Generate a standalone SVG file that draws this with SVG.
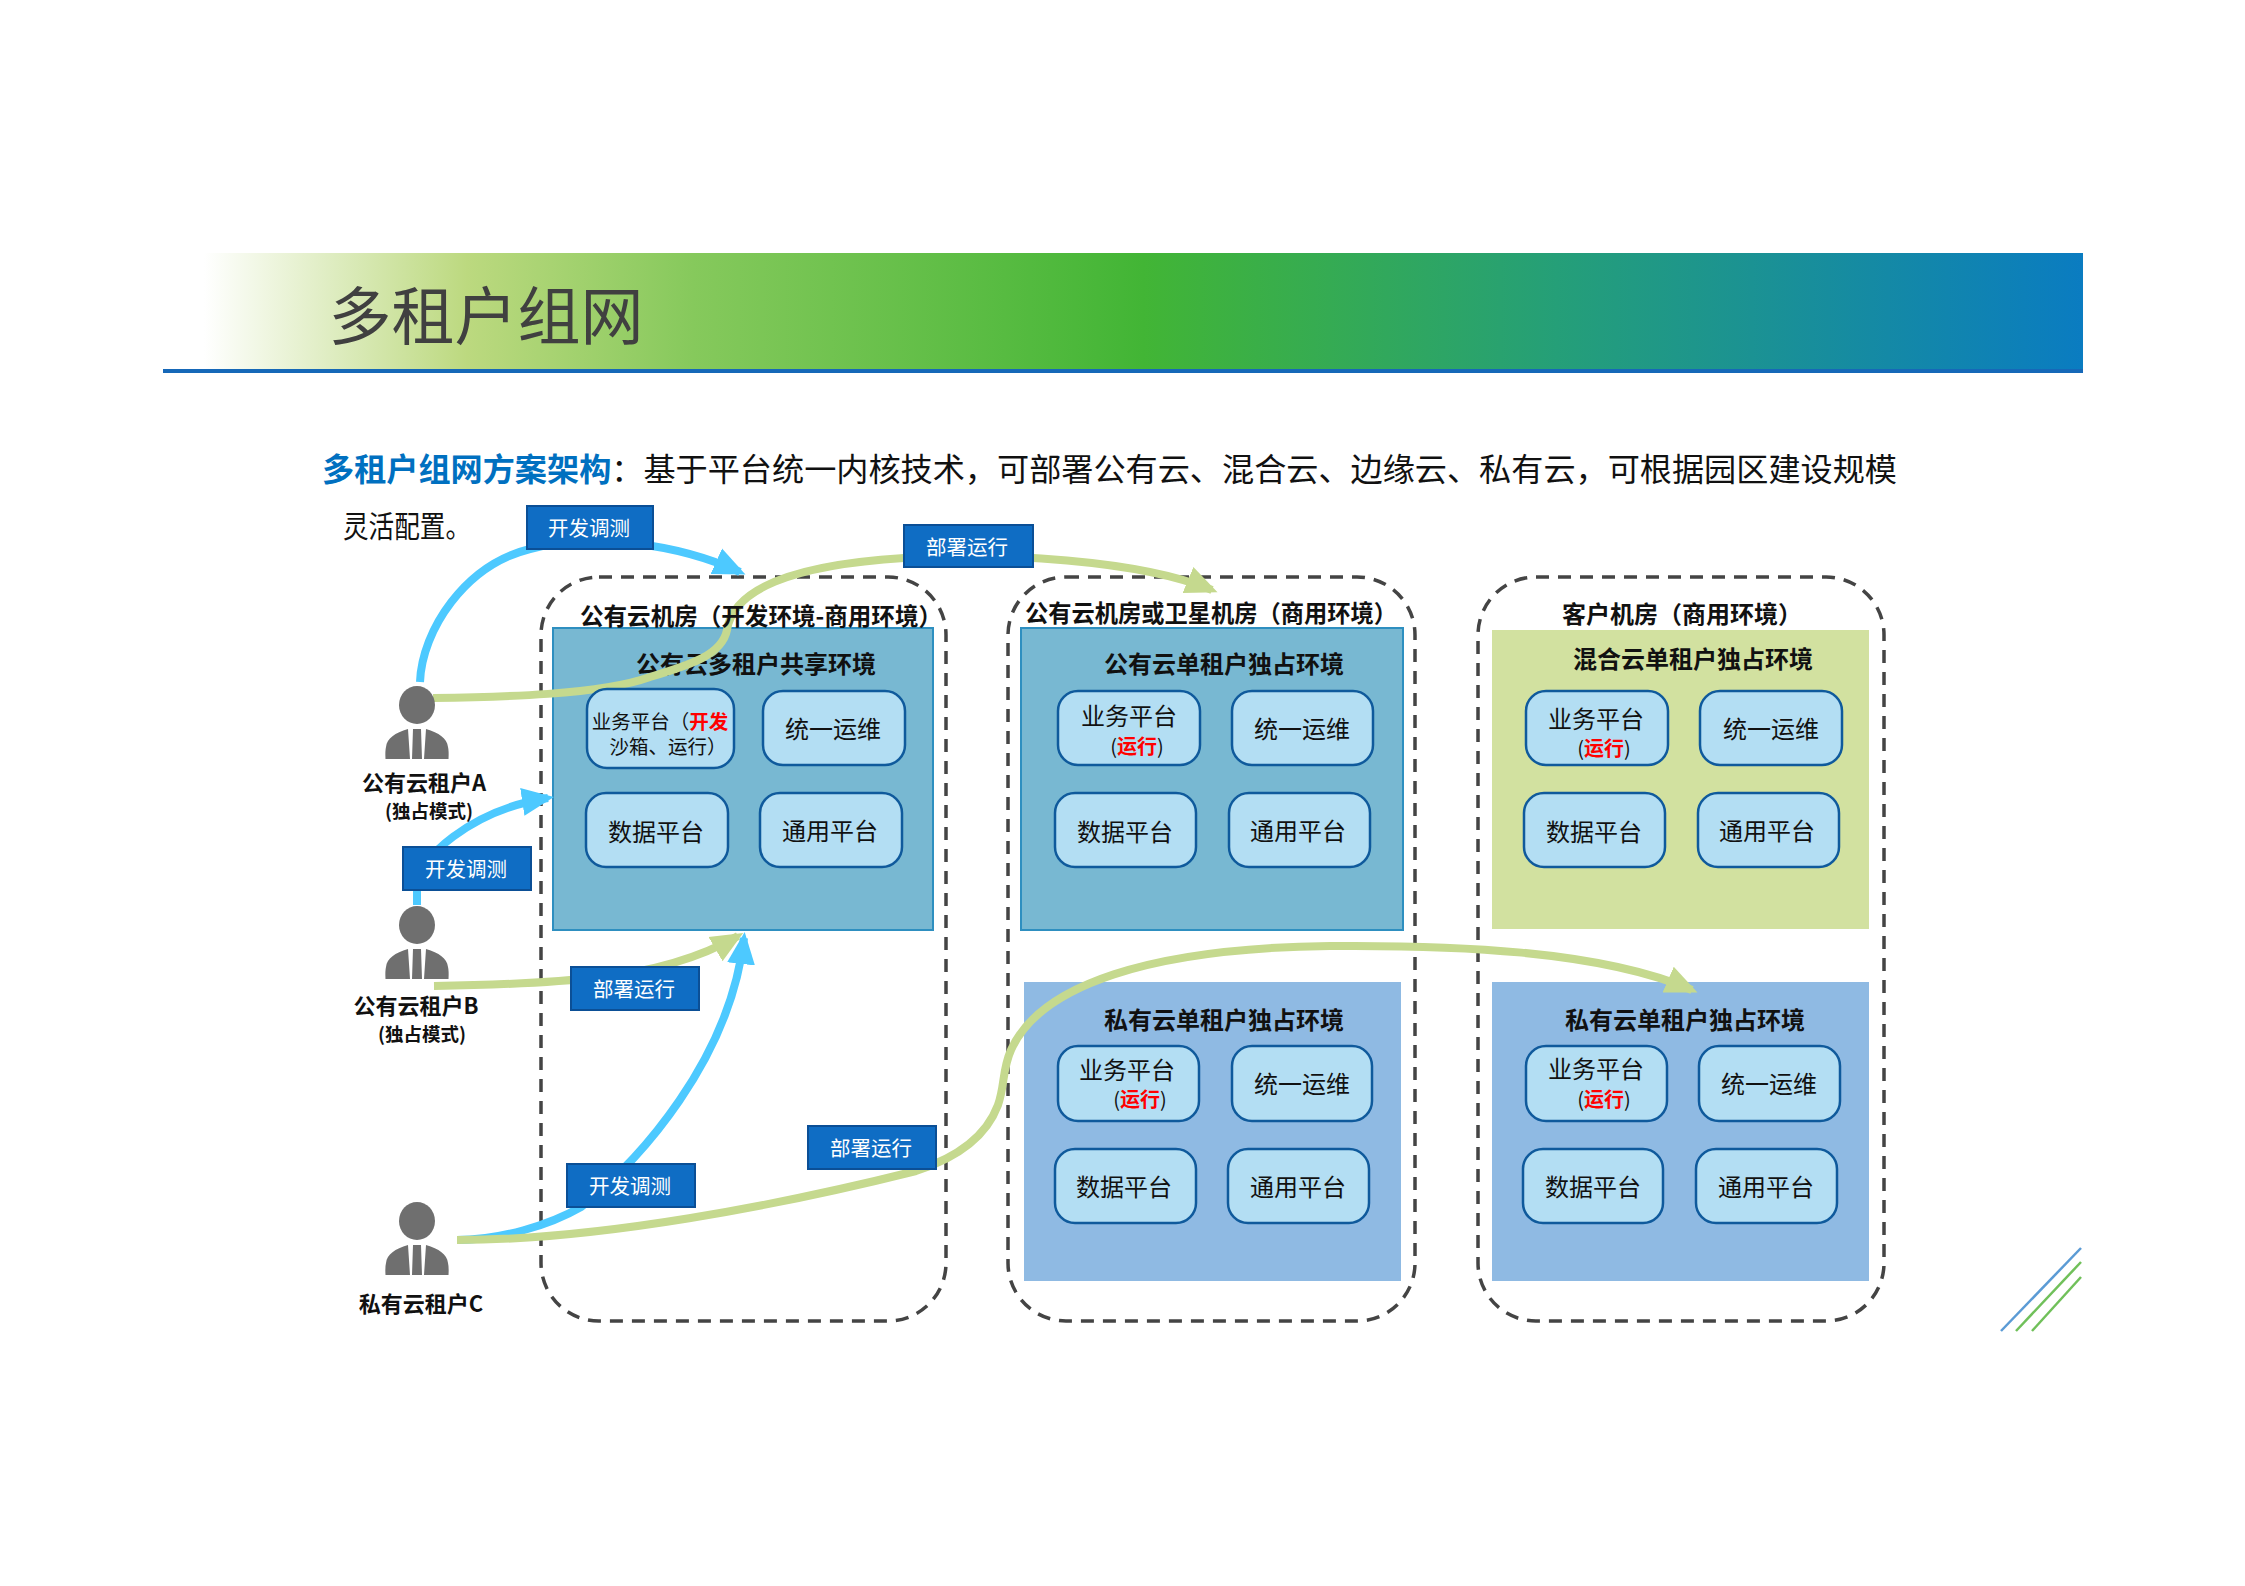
<svg xmlns="http://www.w3.org/2000/svg" width="2245" height="1586" viewBox="0 0 2245 1586">
<style>
text{font-family:"Noto Sans CJK SC","Noto Sans",sans-serif;text-anchor:middle;dominant-baseline:central;fill:#111}
.room{fill:none;stroke:#444;stroke-width:3.5;stroke-dasharray:13 9}
.teal{fill:#78b8d2;stroke:#2e8fc0;stroke-width:2}
.lime{fill:#d2e1a0}
.sky{fill:#8fbae3}
.card{fill:#b3def3;stroke:#0f5a9c;stroke-width:2.5}
.btn{fill:#0f6dc4;stroke:#0b4f96;stroke-width:2}
.btnt{fill:#fff;font-size:20.5px}
.ct{font-size:24px}
.h{font-size:24px;font-weight:700}
.u{font-size:22px;font-weight:700}
.us{font-size:18.5px;font-weight:700}
.run{font-size:20px}
.red{fill:#f00;font-weight:700}
.cb{fill:none;stroke:#4dc9ff;stroke-width:8}
.cg{fill:none;stroke:#c5d98e;stroke-width:8}
</style>
<defs>
<linearGradient id="band" x1="0" x2="1" y1="0" y2="0">
<stop offset="0" stop-color="#fff"/><stop offset=".14" stop-color="#bcd97f"/><stop offset=".26" stop-color="#86c95c"/><stop offset=".5" stop-color="#42b535"/><stop offset=".72" stop-color="#259f78"/><stop offset="1" stop-color="#0a7cc1"/>
</linearGradient>
<marker id="ab" markerUnits="userSpaceOnUse" markerWidth="34" markerHeight="34" viewBox="0 0 34 34" refX="26" refY="17" orient="auto"><path d="M0 3L32 17L0 31z" fill="#4dc9ff"/></marker>
<marker id="ag" markerUnits="userSpaceOnUse" markerWidth="34" markerHeight="34" viewBox="0 0 34 34" refX="26" refY="17" orient="auto"><path d="M0 3L32 17L0 31z" fill="#c5d98e"/></marker>
<g id="person" fill="#6f6f6f">
<ellipse cx="0" cy="0" rx="18" ry="19"/>
<path d="M-31.500 54Q-32 46 -31 42C-30 33-22 28-9 24L-7 54zM31.500 54Q32 46 31 42C30 33 22 28 9 24L7 54zM-4 24H4L5 54H-5z"/>
</g>
</defs>
<rect width="2245" height="1586" fill="#fff"/>
<g id="header">
<rect x="204" y="253" width="1879" height="116" fill="url(#band)"/>
<rect x="163" y="369" width="1920" height="4" fill="#1668b8"/>
<text x="486" y="311" font-size="63" style="fill:#404040">多租户组网</text>
</g>
<g id="intro">
<text x="322" y="467" font-size="32" style="text-anchor:start" textLength="1575" lengthAdjust="spacingAndGlyphs"><tspan style="fill:#0070c0" font-weight="700">多租户组网方案架构</tspan>：基于平台统一内核技术，可部署公有云、混合云、边缘云、私有云，可根据园区建设规模</text>
<text x="343" y="524" font-size="30" style="text-anchor:start" textLength="128" lengthAdjust="spacingAndGlyphs">灵活配置。</text>
</g>
<g id="room1"><rect class="room" x="541" y="577" width="405" height="744" rx="58"/></g>
<g id="room2"><rect class="room" x="1008" y="577" width="407" height="744" rx="58"/></g>
<g id="room3"><rect class="room" x="1478" y="577" width="406" height="744" rx="58"/></g>
<g id="panel1"><rect class="teal" x="553" y="628" width="380" height="302"/><text class="h" x="756" y="662">公有云多租户共享环境</text></g>
<g id="panel2"><rect class="teal" x="1021" y="628" width="382" height="302"/><text class="h" x="1224" y="662">公有云单租户独占环境</text></g>
<g id="panel3"><rect class="lime" x="1492" y="630" width="377" height="299"/><text class="h" x="1693" y="657">混合云单租户独占环境</text></g>
<g id="panel4"><rect class="sky" x="1024" y="982" width="377" height="299"/><text class="h" x="1224" y="1018">私有云单租户独占环境</text></g>
<g id="panel5"><rect class="sky" x="1492" y="982" width="377" height="299"/><text class="h" x="1685" y="1018">私有云单租户独占环境</text></g>
<g id="connectors">
<path class="cb" marker-end="url(#ab)" d="M420 682C422 630 465 565 530 549C600 532 680 545 740 572"/>
<path class="cg" marker-end="url(#ag)" d="M433 698C500 697 600 695 650 677C690 665 722 655 727 630C733 590 790 565 904 558C1000 552 1140 560 1212 590"/>
<path class="cb" marker-end="url(#ab)" d="M417 905V885C417 860 470 810 548 798"/>
<path class="cg" marker-end="url(#ag)" d="M434 986C500 985 560 982 600 977C650 972 700 958 738 936"/>
<path class="cb" marker-end="url(#ab)" d="M457 1240C500 1240 550 1225 581 1207C640 1160 730 1060 744 938"/>
<path class="cg" marker-end="url(#ag)" d="M457 1240C600 1240 780 1205 916 1171C950 1160 985 1140 998 1105C1005 1085 1002 1070 1011 1050C1040 985 1150 948 1330 946C1450 945 1600 950 1692 990"/>
</g>
<g id="room-titles">
<text class="h" x="761" y="614" textLength="362" lengthAdjust="spacingAndGlyphs">公有云机房（开发环境-商用环境）</text>
<text class="h" x="1211" y="611" textLength="372" lengthAdjust="spacingAndGlyphs">公有云机房或卫星机房（商用环境）</text>
<text class="h" x="1682" y="612">客户机房（商用环境）</text>
</g>
<g id="card1-1"><rect class="card" x="587" y="689" width="147" height="79" rx="20"/><text x="660" y="720" font-size="19.500">业务平台（<tspan class="red">开发</tspan></text><text x="668" y="745" font-size="19.500">沙箱、运行）</text></g>
<g id="card1-2"><rect class="card" x="763" y="691" width="142" height="74" rx="20"/><text class="ct" x="833" y="727">统一运维</text></g>
<g id="card1-3"><rect class="card" x="586" y="793" width="142" height="74" rx="20"/><text class="ct" x="656" y="830">数据平台</text></g>
<g id="card1-4"><rect class="card" x="760" y="793" width="142" height="74" rx="20"/><text class="ct" x="830" y="829">通用平台</text></g>
<g id="card2-1"><rect class="card" x="1058" y="691" width="142" height="74" rx="20"/><text class="ct" x="1129" y="714">业务平台</text><text class="run" x="1137" y="745">(<tspan class="red">运行</tspan>)</text></g>
<g id="card2-2"><rect class="card" x="1232" y="691" width="141" height="74" rx="20"/><text class="ct" x="1302" y="727">统一运维</text></g>
<g id="card2-3"><rect class="card" x="1055" y="793" width="141" height="74" rx="20"/><text class="ct" x="1125" y="830">数据平台</text></g>
<g id="card2-4"><rect class="card" x="1229" y="793" width="141" height="74" rx="20"/><text class="ct" x="1298" y="829">通用平台</text></g>
<g id="card3-1"><rect class="card" x="1526" y="691" width="142" height="74" rx="20"/><text class="ct" x="1596" y="717">业务平台</text><text class="run" x="1604" y="747">(<tspan class="red">运行</tspan>)</text></g>
<g id="card3-2"><rect class="card" x="1700" y="691" width="142" height="74" rx="20"/><text class="ct" x="1771" y="727">统一运维</text></g>
<g id="card3-3"><rect class="card" x="1524" y="793" width="141" height="74" rx="20"/><text class="ct" x="1594" y="830">数据平台</text></g>
<g id="card3-4"><rect class="card" x="1698" y="793" width="141" height="74" rx="20"/><text class="ct" x="1767" y="829">通用平台</text></g>
<g id="card4-1"><rect class="card" x="1058" y="1046" width="141" height="75" rx="20"/><text class="ct" x="1127" y="1068">业务平台</text><text class="run" x="1140" y="1098">(<tspan class="red">运行</tspan>)</text></g>
<g id="card4-2"><rect class="card" x="1232" y="1046" width="140" height="75" rx="20"/><text class="ct" x="1302" y="1082">统一运维</text></g>
<g id="card4-3"><rect class="card" x="1055" y="1149" width="141" height="74" rx="20"/><text class="ct" x="1124" y="1185">数据平台</text></g>
<g id="card4-4"><rect class="card" x="1228" y="1149" width="141" height="74" rx="20"/><text class="ct" x="1298" y="1185">通用平台</text></g>
<g id="card5-1"><rect class="card" x="1526" y="1046" width="141" height="75" rx="20"/><text class="ct" x="1596" y="1067">业务平台</text><text class="run" x="1604" y="1098">(<tspan class="red">运行</tspan>)</text></g>
<g id="card5-2"><rect class="card" x="1699" y="1046" width="141" height="75" rx="20"/><text class="ct" x="1769" y="1082">统一运维</text></g>
<g id="card5-3"><rect class="card" x="1523" y="1149" width="140" height="74" rx="20"/><text class="ct" x="1593" y="1185">数据平台</text></g>
<g id="card5-4"><rect class="card" x="1696" y="1149" width="141" height="74" rx="20"/><text class="ct" x="1766" y="1185">通用平台</text></g>
<g id="btn1"><rect class="btn" x="527" y="506" width="126" height="43"/><text class="btnt" x="589" y="527">开发调测</text></g>
<g id="btn2"><rect class="btn" x="904" y="525" width="129" height="42"/><text class="btnt" x="967" y="546">部署运行</text></g>
<g id="btn3"><rect class="btn" x="403" y="847" width="128" height="43"/><text class="btnt" x="466" y="868">开发调测</text></g>
<g id="btn4"><rect class="btn" x="571" y="967" width="128" height="43"/><text class="btnt" x="634" y="988">部署运行</text></g>
<g id="btn5"><rect class="btn" x="567" y="1164" width="128" height="43"/><text class="btnt" x="630" y="1185">开发调测</text></g>
<g id="btn6"><rect class="btn" x="808" y="1126" width="128" height="43"/><text class="btnt" x="871" y="1147">部署运行</text></g>
<g id="tenantA"><use href="#person" x="417" y="705"/><text class="u" x="424" y="781">公有云租户A</text><text class="us" x="429" y="810">(独占模式)</text></g>
<g id="tenantB"><use href="#person" x="417" y="925"/><text class="u" x="416" y="1004">公有云租户B</text><text class="us" x="422" y="1033">(独占模式)</text></g>
<g id="tenantC"><use href="#person" x="417" y="1221"/><text class="u" x="421" y="1302">私有云租户C</text></g>
<g id="corner" fill="none" stroke-width="2.500">
<path d="M2081 1248L2001 1331" stroke="#5b9bd5"/>
<path d="M2081 1262L2016 1331" stroke="#70c05a"/>
<path d="M2081 1277L2032 1331" stroke="#70c05a"/>
</g>
</svg>
